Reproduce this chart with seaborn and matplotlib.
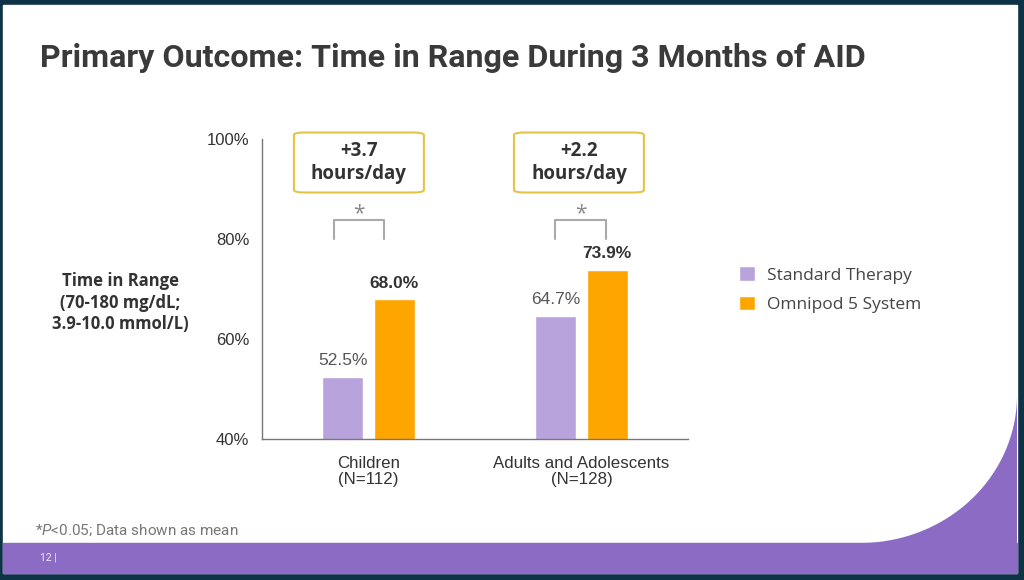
import numpy as np
import pandas as pd
import matplotlib.pyplot as plt
import matplotlib.patches as mpatches
import seaborn as sns

# data
groups = ["Children\n(N=112)", "Adults and Adolescents\n(N=128)"]
therapies = ["Standard Therapy", "Omnipod 5 System"]
standard = [52.5, 64.7]
omnipod = [68.0, 73.9]
gains = ["+3.7\nhours/day", "+2.2\nhours/day"]
yticks = [40, 60, 80, 100]

colors = ["#B9A3DC", "#FFA500"]
dark = "#333333"
purple = "#8B6BC3"

df = pd.DataFrame({
    "group": groups * 2,
    "therapy": [therapies[0]] * 2 + [therapies[1]] * 2,
    "value": standard + omnipod,
})

sns.set_style("white")
plt.rcParams["font.family"] = ["Liberation Sans", "DejaVu Sans"]
plt.rcParams["mathtext.fontset"] = "custom"
plt.rcParams["mathtext.rm"] = "Roboto"
plt.rcParams["mathtext.it"] = "Roboto:italic"

W, H = 1024, 580
fig = plt.figure(figsize=(W / 100, H / 100), dpi=100)
fig.patch.set_facecolor("#0E3347")

def px(x, y):
    return x / W, 1 - y / H

# slide background, pixel coords with y from the top
bg = fig.add_axes([0, 0, 1, 1], zorder=-5)
bg.set_xlim(0, W)
bg.set_ylim(H, 0)
bg.axis("off")
bg.add_patch(mpatches.Rectangle((3, 5), 1014, 568, color="white"))
bg.add_patch(mpatches.Rectangle((3, 543), 1014, 30, color=purple))
# rounded purple corner at the bottom right
cx, cy, rx, ry = 860, 395, 157, 148
t = np.linspace(0, np.pi / 2, 80)
ex = cx + rx * np.cos(t)
ey = cy + ry * np.sin(t)
poly = np.column_stack([np.r_[ex, 1017], np.r_[ey, 543]])
bg.add_patch(mpatches.Polygon(poly, closed=True, color=purple, lw=0))
bg.text(40, 558, "12 |", color="#EEE8F8", fontsize=7.5, va="center", family="Roboto")

fig.text(*px(40, 58), "Primary Outcome: Time in Range During 3 Months of AID",
         fontsize=23.2, fontweight="bold", family="Roboto",
         color="#3A3A3A", va="center")
fig.text(*px(35, 530), r"*$\mathit{P}$<0.05; Data shown as mean", fontsize=11,
         color="#777777", va="center", family="Roboto")

ax = fig.add_axes([262 / W, 1 - 439 / H, 426 / W, 300 / H])
sns.barplot(data=df, x="group", y="value", hue="therapy", palette=colors,
            saturation=1, width=0.48, gap=0.2, ax=ax, legend=True)
ax.set_xlim(-0.5, 1.5)
ax.set_ylim(40, 100)
ax.set_yticks(yticks)
ax.set_yticklabels([f"{v}%" for v in yticks], fontsize=12, color=dark)
ax.set_xticks([0, 1])
ax.set_xticklabels(groups, fontsize=12.2, color=dark, linespacing=1.15)
ax.set_xticks([-0.5, 0.5, 1.5], minor=True)
ax.tick_params(axis="x", which="major", length=0, pad=12)
ax.tick_params(axis="x", which="minor", length=6, color="#777777", direction="out")
ax.tick_params(axis="y", length=5, color="#777777", direction="out", pad=4)
ax.set_xlabel("")
ax.set_ylabel("")
for s in ["top", "right"]:
    ax.spines[s].set_visible(False)
for s in ["left", "bottom"]:
    ax.spines[s].set_color("#777777")
    ax.spines[s].set_linewidth(1)

ax.bar_label(ax.containers[0], labels=[f"{v:.1f}%" for v in standard],
             padding=6, fontsize=12.5, color="#555555")
ax.bar_label(ax.containers[1], labels=[f"{v:.1f}%" for v in omnipod],
             padding=6, fontsize=12.5, color=dark, fontweight="bold")

# brackets, stars and callout boxes
br = [(-0.162, 0.073), (0.876, 1.115)]
for x0, x1 in br:
    ax.plot([x0, x0, x1, x1], [80, 83.8, 83.8, 80], color="#AAAAAA", lw=1.5,
            clip_on=False)
    ax.text((x0 + x1) / 2, 85.0, "*", ha="center", va="center", fontsize=15,
            color="#888888", family="Open Sans")
for xc, txt in zip([-0.045, 0.988], gains):
    ax.text(xc, 95.3, txt, ha="center", va="center", fontsize=13.5,
            fontweight="bold", color=dark, family="Open Sans", linespacing=1.15,
            clip_on=False)
    box = mpatches.FancyBboxPatch((xc - 0.305, 89.3), 0.61, 12.0,
                                  boxstyle="round,pad=0,rounding_size=0.05",
                                  mutation_aspect=12.0 / 0.61 * 0.5,
                                  fc="white", ec="#E3C447", lw=1.5,
                                  clip_on=False, transform=ax.transData)
    ax.add_patch(box)

handles, labels = ax.get_legend_handles_labels()
ax.legend(handles, labels, loc="center left", bbox_to_anchor=(1.084, 0.498),
          frameon=False, handlelength=0.9, handleheight=0.9,
          handletextpad=0.7, labelspacing=0.7,
          prop={"family": "Open Sans", "size": 12.5}, labelcolor="#444444")

fig.text(*px(120, 303), "Time in Range\n(70-180 mg/dL;\n3.9-10.0 mmol/L)",
         ha="center", va="center", fontsize=12, fontweight="bold",
         family="Open Sans", color=dark, linespacing=1.25)

fig.savefig("out.png", dpi=100, facecolor=fig.get_facecolor())
